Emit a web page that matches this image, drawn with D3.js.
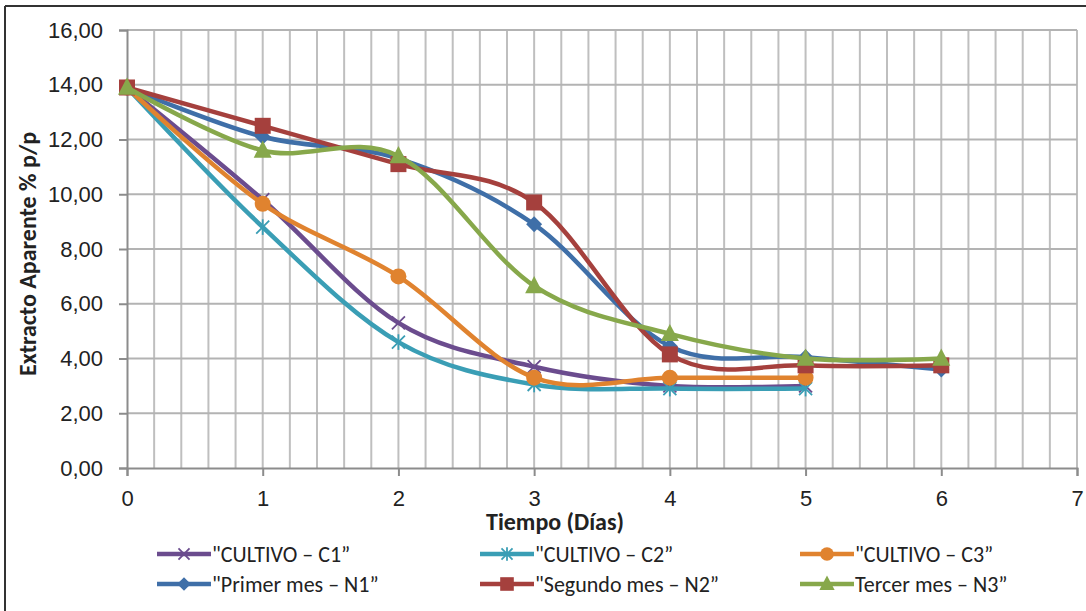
<!DOCTYPE html>
<html>
<head>
<meta charset="utf-8">
<script src="https://cdn.jsdelivr.net/npm/d3@7"></script>
<style>
  body { margin: 0; background: #fff; }
  svg { font-family: Carlito, Lato, "Open Sans", sans-serif; }
  .grid line { stroke: #bfbfbf; stroke-width: 2; }
  .tick text { fill: #222; font-size: 22px; }
</style>
</head>
<body>
<svg id="chart" width="1086" height="611"></svg>
<script>
// data
var days = [0, 1, 2, 3, 4, 5, 6];
var xTicks = [0, 1, 2, 3, 4, 5, 6, 7];
var yTicks = [0, 2, 4, 6, 8, 10, 12, 14, 16];

var names = ['"CULTIVO \u2013 C1\u201d', '"CULTIVO \u2013 C2\u201d', '"CULTIVO \u2013 C3\u201d',
             '"Primer mes \u2013 N1\u201d', '"Segundo mes \u2013 N2\u201d', 'Tercer mes \u2013 N3\u201d'];
var c1 = [13.9, 9.8, 5.3, 3.7, 3.0, 3.0];
var c2 = [13.9, 8.8, 4.6, 3.05, 2.9, 2.9];
var c3 = [13.9, 9.65, 7.0, 3.3, 3.3, 3.3];
var n1 = [13.9, 12.1, 11.3, 8.9, 4.45, 4.05, 3.6];
var n2 = [13.9, 12.5, 11.1, 9.7, 4.15, 3.75, 3.75];
var n3 = [13.9, 11.6, 11.4, 6.65, 4.9, 4.0, 4.0];

var colors = ["#6b4c8e", "#3a9eb5", "#e0832f", "#3f6fa8", "#a5403d", "#87a84b"];
var symbols = ["cross", "star", "circle", "diamond", "square", "triangle"];

var series = [c1, c2, c3, n1, n2, n3].map(function(vals, i) {
  return { name: names[i], color: colors[i], symbol: symbols[i],
           values: vals.map(function(v, j) { return { x: days[j], y: v }; }) };
});

var svg = d3.select("#chart");
var pLeft = 127, pRight = 1077, pTop = 30, pBottom = 468;

var x = d3.scaleLinear().domain([0, 7]).range([pLeft, pRight]);
var y = d3.scaleLinear().domain([0, 16]).range([pBottom, pTop]);

// frame
svg.append("line").attr("x1", 5).attr("x2", 1086).attr("y1", 6).attr("y2", 6)
  .attr("stroke", "#333").attr("stroke-width", 2);
svg.append("line").attr("x1", 5).attr("x2", 5).attr("y1", 6).attr("y2", 611)
  .attr("stroke", "#333").attr("stroke-width", 2);

// grid
var grid = svg.append("g").attr("class", "grid");
grid.selectAll(".v").data(d3.range(1, 36).map(function(i) { return i * 0.2; }))
  .enter().append("line")
  .attr("x1", function(d) { return x(d); }).attr("x2", function(d) { return x(d); })
  .attr("y1", pTop).attr("y2", pBottom);
grid.selectAll(".h").data(yTicks.slice(1))
  .enter().append("line")
  .attr("x1", pLeft).attr("x2", pRight)
  .attr("y1", function(d) { return y(d); }).attr("y2", function(d) { return y(d); })
  .style("stroke", "#b3b3b3");

// axes
var fmt = function(d) { return d3.format(".2f")(d).replace(".", ","); };
var yAxis = svg.append("g").attr("transform", "translate(" + pLeft + ",0)")
  .call(d3.axisLeft(y).tickValues(yTicks).tickFormat(fmt).tickSize(8).tickPadding(16));
var xAxis = svg.append("g").attr("transform", "translate(0," + pBottom + ")")
  .call(d3.axisBottom(x).tickValues(xTicks).tickFormat(d3.format("d")).tickSize(8).tickPadding(14));
[xAxis, yAxis].forEach(function(a) {
  a.select(".domain").attr("stroke", "#8c8c8c").attr("stroke-width", 2);
  a.selectAll(".tick line").attr("stroke", "#8c8c8c").attr("stroke-width", 2);
});

// axis titles
svg.append("text").attr("x", 555).attr("y", 530).attr("text-anchor", "middle")
  .attr("font-size", 24).attr("font-weight", "bold").attr("fill", "#222")
  .text("Tiempo (Días)");
svg.append("text").attr("transform", "translate(36,254) rotate(-90)").attr("text-anchor", "middle")
  .attr("font-size", 24).attr("font-weight", "bold").attr("fill", "#222")
  .text("Extracto Aparente % p/p");

// lines
var line = d3.line().x(function(d) { return x(d.x); }).y(function(d) { return y(d.y); })
  .curve(d3.curveCatmullRom.alpha(0));

function drawMarker(g, sym, color, size) {
  var s = size;
  if (sym === "cross" || sym === "star") {
    g.append("path").attr("d", "M" + (-s) + "," + (-s) + "L" + s + "," + s + "M" + (-s) + "," + s + "L" + s + "," + (-s))
      .attr("stroke", color).attr("stroke-width", 1.8).attr("fill", "none");
    if (sym === "star")
      g.append("path").attr("d", "M0," + (-s * 1.2) + "V" + (s * 1.2))
        .attr("stroke", color).attr("stroke-width", 1.8);
  } else if (sym === "circle") {
    g.append("circle").attr("r", s).attr("fill", color);
  } else if (sym === "square") {
    g.append("rect").attr("x", -s).attr("y", -s).attr("width", 2 * s).attr("height", 2 * s).attr("fill", color);
  } else if (sym === "diamond") {
    g.append("path").attr("d", "M0," + (-s) + "L" + s + ",0L0," + s + "L" + (-s) + ",0Z").attr("fill", color);
  } else if (sym === "triangle") {
    g.append("path").attr("d", "M0," + (-s * 1.1) + "L" + s + "," + (s * 0.8) + "L" + (-s) + "," + (s * 0.8) + "Z").attr("fill", color);
  }
}
var markerSize = { cross: 6.5, star: 6.5, circle: 8, square: 8, diamond: 8, triangle: 9 };

series.forEach(function(s) {
  var g = svg.append("g");
  g.append("path").attr("d", line(s.values)).attr("fill", "none")
    .attr("stroke", s.color).attr("stroke-width", 4.5);
  s.values.forEach(function(p) {
    var m = g.append("g").attr("transform", "translate(" + x(p.x) + "," + y(p.y) + ")");
    drawMarker(m, s.symbol, s.color, markerSize[s.symbol]);
  });
});

// legend
var legX = [157, 480, 800], legY = [554, 584];
series.forEach(function(s, i) {
  var lx = legX[i % 3], ly = legY[Math.floor(i / 3)];
  var g = svg.append("g");
  g.append("line").attr("x1", lx).attr("x2", lx + 54).attr("y1", ly).attr("y2", ly)
    .attr("stroke", s.color).attr("stroke-width", 4.5);
  var m = g.append("g").attr("transform", "translate(" + (lx + 27) + "," + ly + ")");
  drawMarker(m, s.symbol, s.color, markerSize[s.symbol] * 0.85);
  g.append("text").attr("x", lx + 55).attr("y", ly).attr("dy", "0.35em")
    .attr("font-size", 22).attr("fill", "#222").text(s.name);
});
</script>
</body>
</html>
